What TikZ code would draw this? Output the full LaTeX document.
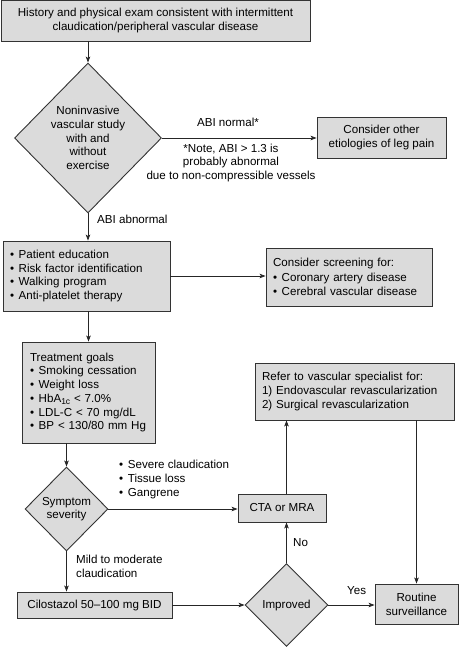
\documentclass[tikz,border=0pt]{standalone}
\usepackage{fontspec}
\setmainfont{Liberation Sans}
\usetikzlibrary{positioning,arrows.meta,shapes.geometric}

\newcommand{\fs}{\fontsize{11.6}{13.7}\selectfont}
\newcommand{\itm}{\textbullet\hspace{0.4em}}

\begin{document}
\begin{tikzpicture}[x=1pt, y=-1pt,
  box/.style={draw=black!80, fill=black!14, line width=0.9pt, font=\fs, align=center, inner sep=2pt},
  listbox/.style={box, align=left, inner xsep=7pt},
  decide/.style={diamond, draw=black!80, fill=black!14, line width=0.9pt, font=\fs, align=center, inner sep=0pt},
  arrow/.style={-{Stealth[length=6pt,width=4.5pt,inset=1.5pt]}, line width=0.7pt, draw=black!85},
  note/.style={font=\fs, align=left, inner sep=0pt},
]
\useasboundingbox (0,0) rectangle (459,647);

% main column
\node[box, minimum width=309pt, minimum height=41pt] (hist) at (155.5,20.5)
  {History and physical exam consistent with intermittent\\claudication/peripheral vascular disease};
\node[decide, minimum width=147pt, minimum height=150pt] (study) at (88,138)
  {Noninvasive\\vascular study\\with and\\without\\exercise};
\node[listbox, text width=153pt, minimum height=70pt] (edu) at (86.5,276)
  {\itm Patient education\\\itm Risk factor identification\\\itm Walking program\\\itm Anti-platelet therapy};
\node[listbox, text width=117pt, inner xsep=8pt, minimum height=101pt] (goals) at (88.5,392.5)
  {Treatment goals\\\itm Smoking cessation\\\itm Weight loss\\
   \itm HbA\raisebox{-2.5pt}{\fontsize{8.5}{8.5}\selectfont 1c} < 7.0\%\\\itm LDL-C < 70 mg/dL\\\itm BP < 130/80 mm Hg};
\node[decide, minimum width=83pt, minimum height=84pt] (sev) at (66.5,509) {Symptom\\severity};
\node[box, minimum width=155pt, minimum height=26pt] (cilo) at (94.5,605) {Cilostazol 50--100 mg BID};

% right side
\node[box, minimum width=129pt, minimum height=41pt] (other) at (381.5,137.5)
  {Consider other\\etiologies of leg pain};
\node[listbox, text width=152pt, minimum height=58pt] (screen) at (349,277)
  {Consider screening for:\\[1.5pt]\itm Coronary artery disease\\\itm Cerebral vascular disease};
\node[listbox, text width=185pt, minimum height=57pt] (refer) at (354.5,391.5)
  {Refer to vascular specialist for:\\1) Endovascular revascularization\\2) Surgical revascularization};
\node[box, minimum width=88pt, minimum height=28pt] (cta) at (282,508) {CTA or MRA};
\node[decide, minimum width=83pt, minimum height=83pt] (imp) at (286.5,605) {Improved};
\node[box, minimum width=83pt, minimum height=40pt] (routine) at (416.5,604) {Routine\\surveillance};

% labels
\node[note, anchor=base] (normal) at (228,127) {ABI normal*};
\node[note, align=center] (caveat) at (231,163)
  {*Note, ABI > 1.3 is\\probably abnormal\\due to non-compressible vessels};
\node[note, anchor=base west] (abnormal) at (97,223) {ABI abnormal};
\node[note, anchor=west] (severe) at (119,479.5)
  {\itm Severe claudication\\\itm Tissue loss\\\itm Gangrene};
\node[note, anchor=west] (mild) at (76,566.5) {Mild to moderate\\claudication};
\node[note, anchor=base west] (no) at (293,546) {No};
\node[note, anchor=base west] (yes) at (347,594) {Yes};

\draw[arrow] (hist.south -| study) -- (study.north);
\draw[arrow] (study.east) -- (study.east -| other.west);
\draw[arrow] (study.south) -- (study.south |- edu.north);
\draw[arrow] (edu.east) -- (edu.east -| screen.west);
\draw[arrow] (edu.south -| goals) -- (goals.north);
\draw[arrow] (goals.south -| sev) -- (sev.north);
\draw[arrow] (sev.east) -- (sev.east -| cta.west);
\draw[arrow] (sev.south) -- (sev.south |- cilo.north);
\draw[arrow] (cilo.east) -- (imp.west);
\draw[arrow] (imp.east) -- (imp.east -| routine.west);
\draw[arrow] (imp.north) -- (imp.north |- cta.south);
\draw[arrow] (imp |- cta.north) -- (imp |- refer.south);
\draw[arrow] (routine |- refer.south) -- (routine.north);
\end{tikzpicture}
\end{document}
